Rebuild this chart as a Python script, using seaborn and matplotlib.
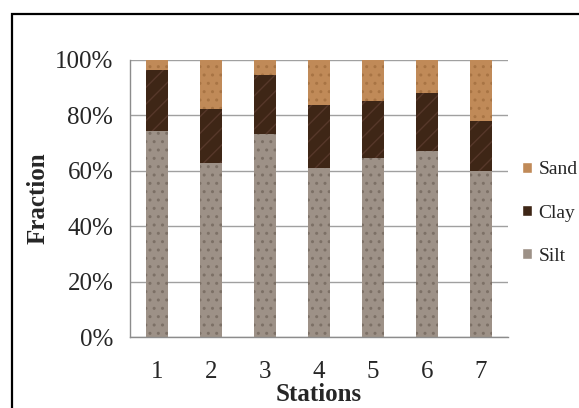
import matplotlib
matplotlib.use("Agg")
import matplotlib.pyplot as plt
import seaborn as sns
import pandas as pd
import numpy as np
from matplotlib.patches import Rectangle, Patch

stations = ["1", "2", "3", "4", "5", "6", "7"]
silt = [74.4, 62.8, 73.3, 61.0, 64.6, 67.1, 59.9]
clay = [22.0, 19.5, 21.3, 22.8, 20.6, 21.0, 18.1]
sand = [3.6, 17.7, 5.4, 16.2, 14.8, 11.9, 22.0]

sns.set_style("white")
plt.rcParams['font.family'] = ['Liberation Serif', 'DejaVu Serif']

df = pd.DataFrame({"Station": stations, "Silt": silt, "Clay": clay, "Sand": sand})
df["SiltTop"] = df["Silt"]
df["ClayTop"] = df["Silt"] + df["Clay"]
df["SandTop"] = df["ClayTop"] + df["Sand"]

c_sand = "#c08a58"
c_clay = "#3e2616"
c_silt = "#9d9187"

fig = plt.figure(figsize=(5.79, 4.08), dpi=100)
ax = fig.add_axes([130/579, 1-337/408, (508-130)/579, 277/408])

layers = [("SandTop", c_sand, "#a87444"), ("ClayTop", c_clay, "#56382a"), ("SiltTop", c_silt, "#7c7066")]
for col, color, hcol in layers:
    sns.barplot(data=df, x="Station", y=col, color=color, width=0.4,
                saturation=1, ax=ax, order=stations)
# apply subtle textures
n = len(stations)
for i, p in enumerate(ax.patches):
    layer = i // n
    p.set_linewidth(0)
    p.set_hatch(["..", "//", ".."][layer])
    p.set_edgecolor(layers[layer][2])

ax.set_ylim(0, 100)
ax.set_xlim(-0.5, n - 0.5)
ax.set_yticks(np.arange(0, 101, 20))
ax.set_yticklabels([f"{v}%" for v in range(0, 101, 20)], fontsize=18)
ax.set_xticks(range(n))
ax.set_xticklabels(stations, fontsize=18)
ax.set_xticks(np.arange(-0.5, n, 1), minor=True)
ax.tick_params(axis="x", which="major", length=0, pad=17)
ax.tick_params(axis="x", which="minor", length=7, width=1, color="#8c8c8c", direction="out")
ax.tick_params(axis="y", which="major", length=7, width=1, color="#8c8c8c", direction="out", pad=5)
ax.yaxis.grid(True, color="#a0a0a0", linewidth=1)
ax.set_axisbelow(True)
for s in ["top", "right"]:
    ax.spines[s].set_visible(False)
for s in ["left", "bottom"]:
    ax.spines[s].set_color("#8c8c8c")
    ax.spines[s].set_linewidth(1)

ax.set_xlabel("Stations", fontsize=18, fontweight="bold", labelpad=0.5)
ax.set_ylabel("Fraction", fontsize=18, fontweight="bold", labelpad=4)

handles = [Patch(facecolor=c_sand, label="Sand"),
           Patch(facecolor=c_clay, label="Clay"),
           Patch(facecolor=c_silt, label="Silt")]
leg = fig.legend(handles=handles, loc="center left", bbox_to_anchor=(514/579, 1-213/408),
                 frameon=False, fontsize=14, handlelength=0.5, handleheight=0.5,
                 handletextpad=0.35, labelspacing=1.35, borderaxespad=0)

fig.patches.append(Rectangle((12/579, -0.1), 1.1, 0.1 + 1 - 14/408, transform=fig.transFigure,
                             fill=False, edgecolor="black", linewidth=1.6))

fig.savefig("out.png", dpi=100)
